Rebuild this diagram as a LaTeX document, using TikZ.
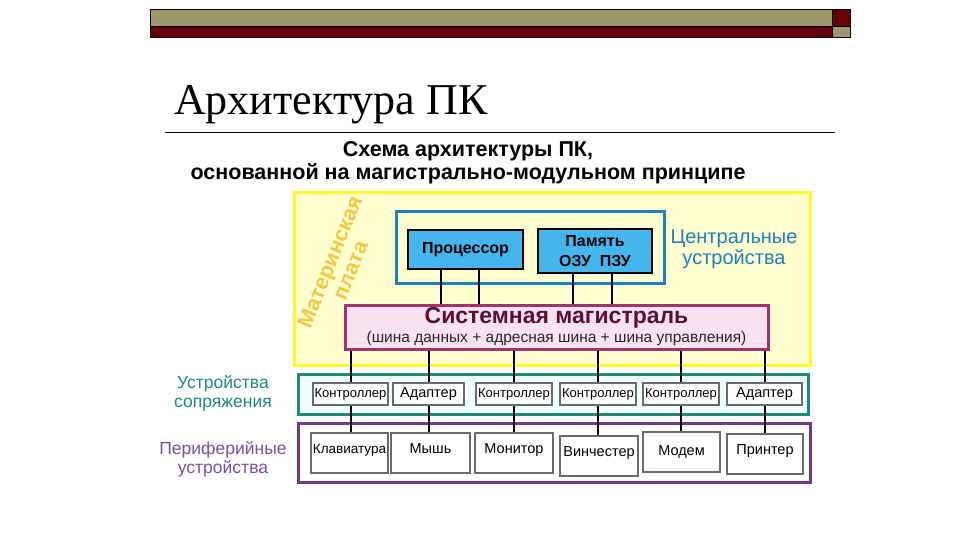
\documentclass[tikz,border=0pt]{standalone}
\usepackage{fontspec}
\setmainfont{Liberation Sans}
\newfontfamily\titlefont{Liberation Serif}
\usetikzlibrary{positioning}

\definecolor{olivebar}{RGB}{154,152,104}
\definecolor{darkbar}{RGB}{101,0,8}
\definecolor{boardline}{RGB}{255,250,40}
\definecolor{boardfill}{RGB}{255,255,208}
\definecolor{boardtext}{RGB}{245,200,66}
\definecolor{cpuline}{RGB}{30,127,192}
\definecolor{cpufill}{RGB}{69,181,238}
\definecolor{busline}{RGB}{160,51,110}
\definecolor{busfill}{RGB}{250,227,238}
\definecolor{bustext}{RGB}{90,16,53}
\definecolor{ifaceline}{RGB}{31,138,120}
\definecolor{ifacefill}{RGB}{239,255,255}
\definecolor{periline}{RGB}{112,58,140}
\definecolor{peritext}{RGB}{122,79,160}
\definecolor{unitgray}{RGB}{106,106,106}

\begin{document}
\begin{tikzpicture}[x=1pt,y=-1pt,inner sep=0pt,
    frame/.style={draw,line width=3pt},
    chip/.style={draw=black,fill=cpufill,line width=2pt,align=center,font=\fontsize{16}{20}\selectfont\bfseries},
    unit/.style={draw=unitgray,fill=white,line width=2pt,font=\fontsize{13}{14}\selectfont},
    dev/.style={unit,minimum height=40,text height=10pt,text depth=9pt,font=\fontsize{14.5}{16}\selectfont},
    wire/.style={line width=2pt,black}]
    \useasboundingbox (0,0) rectangle (960,540);
    % slide header
    \fill[olivebar] (150,9) rectangle (832,26);
    \fill[darkbar] (150,26) rectangle (832,37);
    \fill[darkbar] (832,9) rectangle (850,26);
    \fill[olivebar] (832,26) rectangle (850,37);
    \draw[line width=0.6pt] (150,9) rectangle (850,37) (150,26) -- (850,26) (832,9) -- (832,37);
    \node[anchor=base west,font=\titlefont\fontsize{44}{48}\selectfont] (title) at (174,115) {Архитектура ПК};
    \draw[line width=0.8pt] (165,132) -- (835,132);
    \node[align=center,font=\fontsize{21.5}{23}\selectfont\bfseries] (head) at (468,163)
        {Схема архитектуры ПК,\\основанной на магистрально-модульном принципе};
    % motherboard
    \node[frame,draw=boardline,fill=boardfill,minimum width=516,minimum height=173] (board) at (552,278.5) {};
    \node[rotate=68,align=center,text=boardtext,font=\fontsize{21.5}{22}\selectfont\bfseries] (plate) at (340,266)
        {Материнская\\плата};
    \node[frame,draw=cpuline,fill=boardfill,minimum width=268,minimum height=72] (central) at (530,247) {};
    \node[chip,minimum width=115,minimum height=39] (cpu) at (465.5,249.5) {Процессор};
    \node[chip,minimum width=114,minimum height=44] (mem) at (595,251) {Память\\ОЗУ~~ПЗУ};
    \node[align=center,text=cpuline,font=\fontsize{20}{21}\selectfont] (centrallbl) at (734,249)
        {Центральные\\устройства};
    \node[frame,draw=busline,fill=busfill,minimum width=423,minimum height=44] (bus) at (556.5,327) {};
    \node[anchor=base,text=bustext,font=\fontsize{23}{23}\selectfont\bfseries] (bustitle) at ([yshift=4pt]bus.center)
        {Системная магистраль};
    \node[anchor=base,text=black!85,font=\fontsize{15.5}{16}\selectfont] (busnote) at ([yshift=-15pt]bus.center)
        {(шина данных + адресная шина + шина управления)};
    \foreach \dx in {-25,13} \draw[wire] ([xshift=\dx]cpu.south) -- ([xshift=\dx]cpu.south |- bus.north);
    \foreach \dx in {-22,17} \draw[wire] ([xshift=\dx]mem.south) -- ([xshift=\dx]mem.south |- bus.north);
    % interface devices
    \node[frame,draw=ifaceline,fill=ifacefill,minimum width=510,minimum height=40] (iface) at (553,394) {};
    \node[align=center,text=ifaceline,font=\fontsize{17.5}{19}\selectfont] (ifacelbl) at (223,393)
        {Устройства\\сопряжения};
    % peripherals
    \node[frame,draw=periline,fill=white,minimum width=512,minimum height=59] (peri) at (554,452.5) {};
    \node[align=center,text=peritext,font=\fontsize{17.5}{19}\selectfont] (perilbl) at (223,459)
        {Периферийные\\устройства};
    \node[unit,minimum width=75,minimum height=22] (c1) at (350.5,394) {Контроллер};
    \node[unit,minimum width=71,minimum height=22,font=\fontsize{14.5}{15}\selectfont] (c2) at (428.5,394) {Адаптер};
    \node[unit,minimum width=76,minimum height=22] (c3) at (514,394) {Контроллер};
    \node[unit,minimum width=76,minimum height=22] (c4) at (598,394) {Контроллер};
    \node[unit,minimum width=76,minimum height=22] (c5) at (681,394) {Контроллер};
    \node[unit,minimum width=75,minimum height=22,font=\fontsize{14.5}{15}\selectfont] (c6) at (764.5,394) {Адаптер};
    \node[dev,minimum width=77,font=\fontsize{13.5}{15}\selectfont] (d1) at (349.5,453) {Клавиатура};
    \node[dev,minimum width=79] (d2) at (430.5,453) {Мышь};
    \node[dev,minimum width=78] (d3) at (514,453) {Монитор};
    \node[dev,minimum width=78] (d4) at (599,456) {Винчестер};
    \node[dev,minimum width=77,text height=,text depth=] (d5) at (681.5,452) {Модем};
    \node[dev,minimum width=76] (d6) at (765,454) {Принтер};
    \foreach \c/\d in {c1/d1,c2/d2,c3/d3,c4/d4,c5/d5,c6/d6}{
        \draw[wire] (\c.north |- bus.south) -- (\c.north);
        \draw[wire] (\c.south) -- (\c.south |- \d.north);
    }
\end{tikzpicture}
\end{document}
